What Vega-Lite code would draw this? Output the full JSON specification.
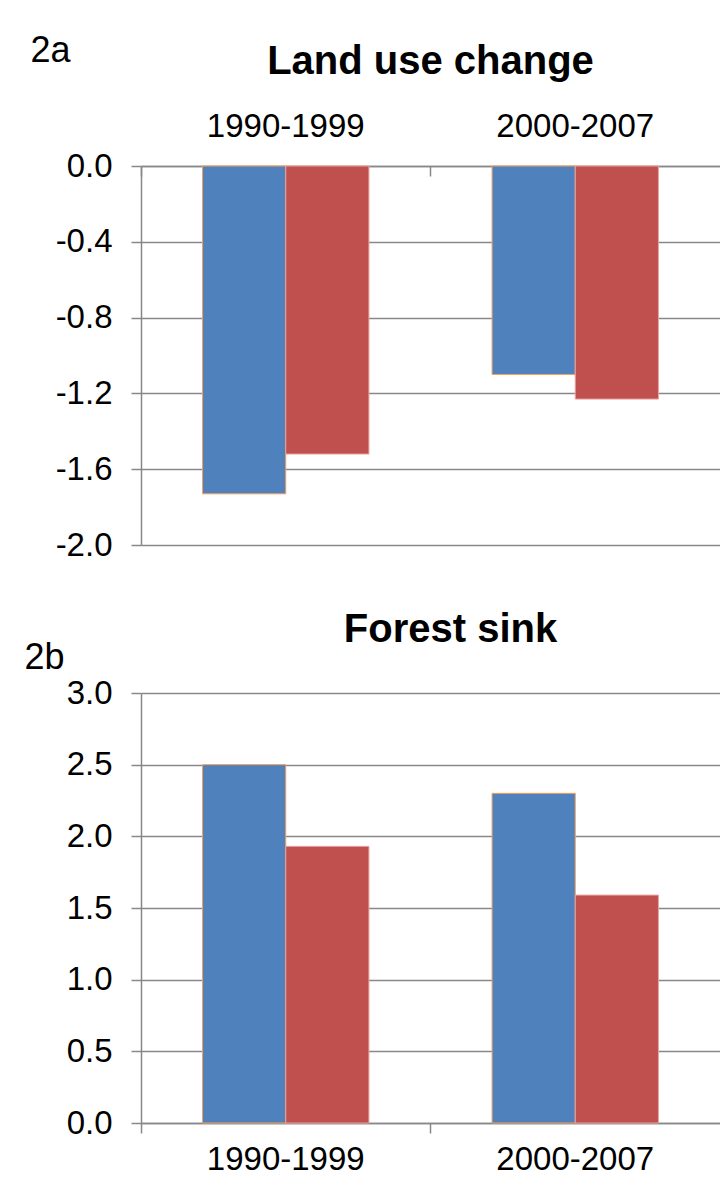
{
  "$schema": "https://vega.github.io/schema/vega-lite/v6.json",
  "padding": {"left": 24, "top": 32, "right": 0, "bottom": 0},
  "background": "white",
  "spacing": 48,
  "datasets": {
    "landuse": [
      {"period": "1990-1999", "series": "A", "value": -1.73},
      {"period": "1990-1999", "series": "B", "value": -1.52},
      {"period": "2000-2007", "series": "A", "value": -1.10},
      {"period": "2000-2007", "series": "B", "value": -1.23}
    ],
    "forest": [
      {"period": "1990-1999", "series": "A", "value": 2.50},
      {"period": "1990-1999", "series": "B", "value": 1.93},
      {"period": "2000-2007", "series": "A", "value": 2.30},
      {"period": "2000-2007", "series": "B", "value": 1.59}
    ]
  },
  "config": {
    "view": {"stroke": null},
    "axis": {
      "labelFont": "Liberation Sans",
      "labelFontSize": 33,
      "labelColor": "#000000",
      "domainColor": "#888888",
      "domainWidth": 1.5,
      "tickColor": "#888888",
      "tickWidth": 1.5,
      "gridColor": "#888888",
      "gridWidth": 1.5,
      "gridOpacity": 1,
      "titleFont": "Liberation Sans",
      "titleFontWeight": "normal",
      "titleColor": "#000000",
      "titleFontSize": 36
    },
    "title": {"font": "Liberation Sans", "fontWeight": "bold", "fontSize": 40, "color": "#000000"}
  },
  "vconcat": [
    {
      "data": {"name": "landuse"},
      "width": 579,
      "height": 379,
      "title": {"text": "Land use change", "frame": "group", "anchor": "middle", "offset": -50},
      "mark": {"type": "bar", "strokeWidth": 1},
      "encoding": {
        "x": {
          "field": "period", "type": "nominal",
          "scale": {"paddingInner": 0, "paddingOuter": 0},
          "axis": {"orient": "top", "title": null, "bandPosition": 0, "tickSize": -10, "labelPadding": 33, "labelAngle": 0, "grid": false}
        },
        "xOffset": {"field": "series", "type": "nominal", "scale": {"paddingInner": 0, "paddingOuter": 0.74}},
        "y": {
          "field": "value", "type": "quantitative",
          "scale": {"domain": [-2, 0], "nice": false},
          "axis": {
            "values": [-2, -1.6, -1.2, -0.8, -0.4, 0],
            "labelExpr": "replace(format(datum.value, '.1f'), '\u2212', '-')",
            "grid": true, "tickSize": 10, "labelPadding": 19,
            "title": "2a", "titleAngle": 0, "titleAlign": "left", "titleBaseline": "alphabetic",
            "titleX": -111, "titleY": -105
          }
        },
        "color": {"field": "series", "type": "nominal", "scale": {"range": ["#4F81BD", "#C0504D"]}, "legend": null},
        "stroke": {"field": "series", "type": "nominal", "scale": {"range": ["#F5A05A", "#E9A3A1"]}, "legend": null}
      }
    },
    {
      "data": {"name": "forest"},
      "width": 579,
      "height": 430,
      "title": {"text": "Forest sink", "frame": "group", "anchor": "middle", "offset": -11, "dx": 20},
      "mark": {"type": "bar", "strokeWidth": 1},
      "encoding": {
        "x": {
          "field": "period", "type": "nominal",
          "scale": {"paddingInner": 0, "paddingOuter": 0},
          "axis": {"orient": "bottom", "title": null, "bandPosition": 0, "tickSize": 10, "labelPadding": 10, "labelAngle": 0, "grid": false}
        },
        "xOffset": {"field": "series", "type": "nominal", "scale": {"paddingInner": 0, "paddingOuter": 0.7}},
        "y": {
          "field": "value", "type": "quantitative",
          "scale": {"domain": [0, 3], "nice": false},
          "axis": {
            "values": [0, 0.5, 1, 1.5, 2, 2.5, 3],
            "format": ".1f",
            "grid": true, "tickSize": 10, "labelPadding": 19,
            "title": "2b", "titleAngle": 0, "titleAlign": "left", "titleBaseline": "alphabetic",
            "titleX": -117, "titleY": -25
          }
        },
        "color": {"field": "series", "type": "nominal", "scale": {"range": ["#4F81BD", "#C0504D"]}, "legend": null},
        "stroke": {"field": "series", "type": "nominal", "scale": {"range": ["#F5A05A", "#E9A3A1"]}, "legend": null}
      }
    }
  ]
}
